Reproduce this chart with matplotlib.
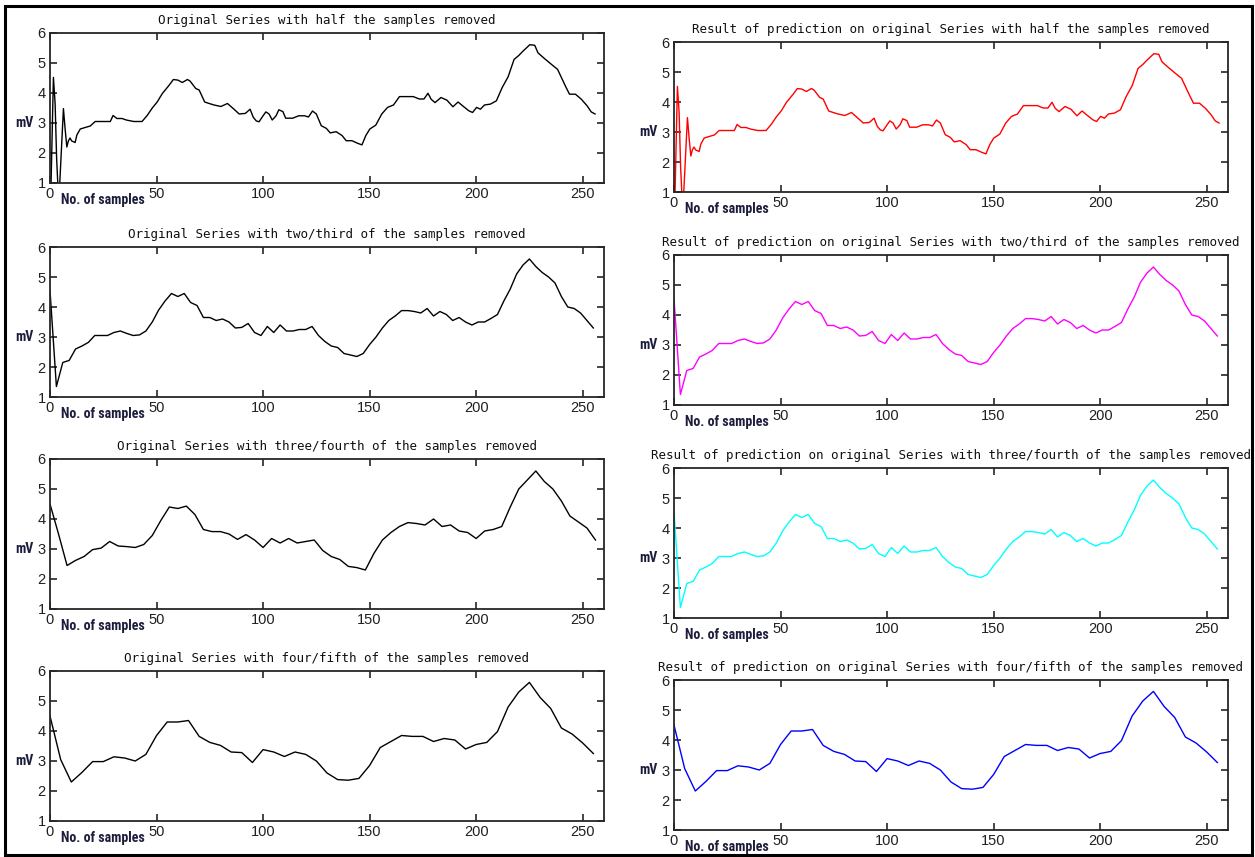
import numpy as np
import matplotlib
matplotlib.use("Agg")
import matplotlib.pyplot as plt
from matplotlib import font_manager
from matplotlib.patches import Rectangle

# ---- data ----
# half the samples removed (irregular breakpoints of the traced curve)
x_half = [0, 1.6, 2.4, 3.1, 4.1, 6.3, 7.1, 7.9, 8.6, 9.4, 10.2, 11.8, 12.6, 14.2, 16.5,
          18.9, 21.2, 28.3, 29.6, 31.4, 33.8, 35.8, 39.3, 43.2, 45.6, 48, 50.3, 52.7,
          55.8, 57.9, 60, 62.1, 64.5, 65.7, 68.4, 70, 72.6, 74.7, 77, 80.2, 83.3, 86.5,
          88.8, 91.7, 93.9, 95.4, 96.8, 98.1, 100, 101.3, 102.8, 104.3, 106.1, 107.4,
          109.3, 110.6, 113.9, 116.7, 119.5, 121.3, 123.2, 125, 127.3, 129.7, 131.5,
          134.3, 137.1, 139, 141.7, 144.5, 146.4, 148.2, 150.1, 152.9, 155.7, 158.4,
          161.2, 164, 170.5, 173.3, 175.5, 177.4, 178.9, 180.7, 183.5, 186.3, 189.1,
          191.5, 193.7, 196.5, 198.3, 200.2, 202, 203.9, 206.7, 209.5, 212.2, 215,
          217.8, 220, 221.9, 225.2, 227.5, 229, 231.7, 235.4, 238.2, 241.9, 243.8,
          246.6, 249.4, 252.1, 254, 255.8]
y_half = [-0.6, 4.52, 3.65, 1.84, 0.3, 3.48, 2.8, 2.2, 2.4, 2.5, 2.4, 2.35, 2.6, 2.8, 2.85,
          2.9, 3.05, 3.05, 3.25, 3.15, 3.15, 3.1, 3.05, 3.05, 3.25, 3.5, 3.7, 3.98,
          4.25, 4.45, 4.43, 4.35, 4.45, 4.4, 4.15, 4.1, 3.7, 3.65, 3.6, 3.55, 3.65, 3.45,
          3.3, 3.32, 3.46, 3.19, 3.07, 3.04, 3.24, 3.37, 3.3, 3.1, 3.24, 3.44,
          3.38, 3.16, 3.16, 3.24, 3.24, 3.2, 3.4, 3.3, 2.91, 2.82, 2.67,
          2.71, 2.58, 2.41, 2.41, 2.32, 2.27, 2.58, 2.8, 2.93, 3.3, 3.52,
          3.6, 3.88, 3.88, 3.8, 3.8, 3.99, 3.79, 3.68, 3.85, 3.76, 3.54,
          3.7, 3.57, 3.41, 3.35, 3.52, 3.46, 3.6, 3.63, 3.74, 4.18, 4.54,
          5.12, 5.25, 5.39, 5.61, 5.59, 5.34, 5.17, 4.95, 4.79, 4.23, 3.96,
          3.96, 3.79, 3.57, 3.37, 3.3]

# two/third of the samples removed (every 3rd sample)
x_third = list(range(0, 256, 3))
y_third = [4.55, 1.35, 2.15, 2.22, 2.6, 2.7, 2.82, 3.05, 3.05, 3.05, 3.15, 3.2, 3.12, 3.05,
           3.07, 3.2, 3.5, 3.9, 4.2, 4.45, 4.35, 4.45, 4.15, 4.05, 3.65, 3.65, 3.55, 3.6,
           3.5, 3.3, 3.32, 3.45, 3.15, 3.05, 3.35, 3.15, 3.4, 3.2, 3.2, 3.25, 3.25, 3.35,
           3.05, 2.85, 2.7, 2.65, 2.45, 2.4, 2.35, 2.45, 2.75, 3.0, 3.3, 3.55, 3.7, 3.88,
           3.88, 3.85, 3.8, 3.95, 3.7, 3.85, 3.75, 3.55, 3.65, 3.5, 3.4, 3.5, 3.5, 3.62,
           3.75, 4.2, 4.6, 5.1, 5.4, 5.6, 5.35, 5.15, 5.0, 4.8, 4.35, 4.0, 3.95, 3.8,
           3.55, 3.3]

# three/fourth of the samples removed (every 4th sample)
x_fourth = list(range(0, 257, 4))
y_fourth = [4.5, 3.5, 2.45, 2.62, 2.75, 2.98, 3.03, 3.25, 3.1, 3.08, 3.05, 3.15, 3.45,
            3.95, 4.4, 4.35, 4.43, 4.15, 3.65, 3.58, 3.58, 3.5, 3.32, 3.48, 3.3, 3.05,
            3.35, 3.2, 3.35, 3.2, 3.25, 3.3, 2.95, 2.75, 2.65, 2.42, 2.38, 2.3, 2.85,
            3.3, 3.55, 3.75, 3.88, 3.85, 3.8, 4.0, 3.75, 3.8, 3.6, 3.55, 3.35, 3.6,
            3.65, 3.75, 4.4, 5.0, 5.3, 5.6, 5.25, 5.0, 4.6, 4.1, 3.9, 3.7, 3.3]

# four/fifth of the samples removed (every 5th sample)
x_fifth = list(range(0, 256, 5))
y_fifth = [4.5, 3.05, 2.3, 2.62, 2.98, 2.98, 3.14, 3.1, 3.0, 3.22, 3.85, 4.3, 4.3, 4.35,
           3.82, 3.62, 3.52, 3.3, 3.28, 2.95, 3.38, 3.3, 3.15, 3.3, 3.22, 3.0, 2.6, 2.38,
           2.36, 2.42, 2.85, 3.45, 3.65, 3.85, 3.82, 3.82, 3.65, 3.75, 3.7, 3.4, 3.55,
           3.62, 3.98, 4.8, 5.3, 5.62, 5.12, 4.75, 4.1, 3.9, 3.6, 3.25]

titles_left = ["Original Series with half the samples removed",
               "Original Series with two/third of the samples removed",
               "Original Series with three/fourth of the samples removed",
               "Original Series with four/fifth of the samples removed"]
titles_right = ["Result of prediction on original Series with half the samples removed",
                "Result of prediction on original Series with two/third of the samples removed",
                "Result of prediction on original Series with three/fourth of the samples removed",
                "Result of prediction on original Series with four/fifth of the samples removed"]
colors_right = ["#ff0000", "#ff00ff", "#00ffff", "#0000ff"]

x_ticks = [0, 50, 100, 150, 200, 250]
y_ticks = [1, 2, 3, 4, 5, 6]

# left panels: originals; right panels: predictions (look the same as the originals,
# the 3/4 prediction shows the same start dip as the 2/3 one)
series_left = [(x_half, y_half), (x_third, y_third), (x_fourth, y_fourth), (x_fifth, y_fifth)]
series_right = [(x_half, y_half), (x_third, y_third), (x_third, y_third), (x_fifth, y_fifth)]


# narrow bold font for the axis labels, if one is installed
def pick_font(names):
    for n in names:
        try:
            font_manager.findfont(font_manager.FontProperties(family=n, weight="bold"),
                                  fallback_to_default=False)
            return n, True
        except ValueError:
            pass
    return "Liberation Sans", False


narrow_font, is_narrow = pick_font(["Liberation Sans Narrow", "DejaVu Sans Condensed",
                                    "Roboto Condensed", "Open Sans Condensed"])
lab_size = 10 if is_narrow else 8.2

W, H = 1255, 857
fig = plt.figure(figsize=(W / 100, H / 100), dpi=100)

label_color = "#1c1c3c"
tops_left = [33, 247, 459, 671]
tops_right = [42, 255, 468, 680]


def make_panel(left_px, top_px, title, xs, ys, color):
    w_px, h_px = 554, 150
    ax = fig.add_axes([left_px / W, 1 - (top_px + h_px) / H, w_px / W, h_px / H])
    ax.plot(xs, ys, color=color, lw=1.0)
    ax.set_xlim(0, 260)
    ax.set_ylim(1, 6)
    ax.set_xticks(x_ticks)
    ax.set_yticks(y_ticks)
    ax.tick_params(direction="in", top=True, right=True, length=5, width=1.2,
                   labelsize=10.5, pad=3, colors="#262626")
    for lab in ax.get_xticklabels() + ax.get_yticklabels():
        lab.set_fontfamily("Liberation Sans")
        lab.set_color("#202020")
    for sp in ax.spines.values():
        sp.set_linewidth(1.3)
        sp.set_color("#262626")
    ax.set_title(title, fontsize=9, family="DejaVu Sans Mono", pad=6.5, color="#101010")
    ax.text(-26 / w_px, 0.4, "mV", transform=ax.transAxes, ha="center", va="center",
            fontsize=lab_size, fontweight="bold", family=narrow_font, color=label_color)
    ax.text(11 / w_px, -17 / h_px, "No. of samples", transform=ax.transAxes, ha="left",
            va="center", fontsize=lab_size, fontweight="bold", family=narrow_font,
            color=label_color)
    return ax


for i in range(4):
    make_panel(50, tops_left[i], titles_left[i], series_left[i][0], series_left[i][1], "black")
    make_panel(674, tops_right[i], titles_right[i], series_right[i][0], series_right[i][1],
               colors_right[i])

# screenshot frame
fig.patches.append(Rectangle((5 / W, 2 / H), 1247 / W, 849 / H, transform=fig.transFigure,
                             fill=False, edgecolor="black", lw=2.2))

fig.savefig("out.png", dpi=100)
